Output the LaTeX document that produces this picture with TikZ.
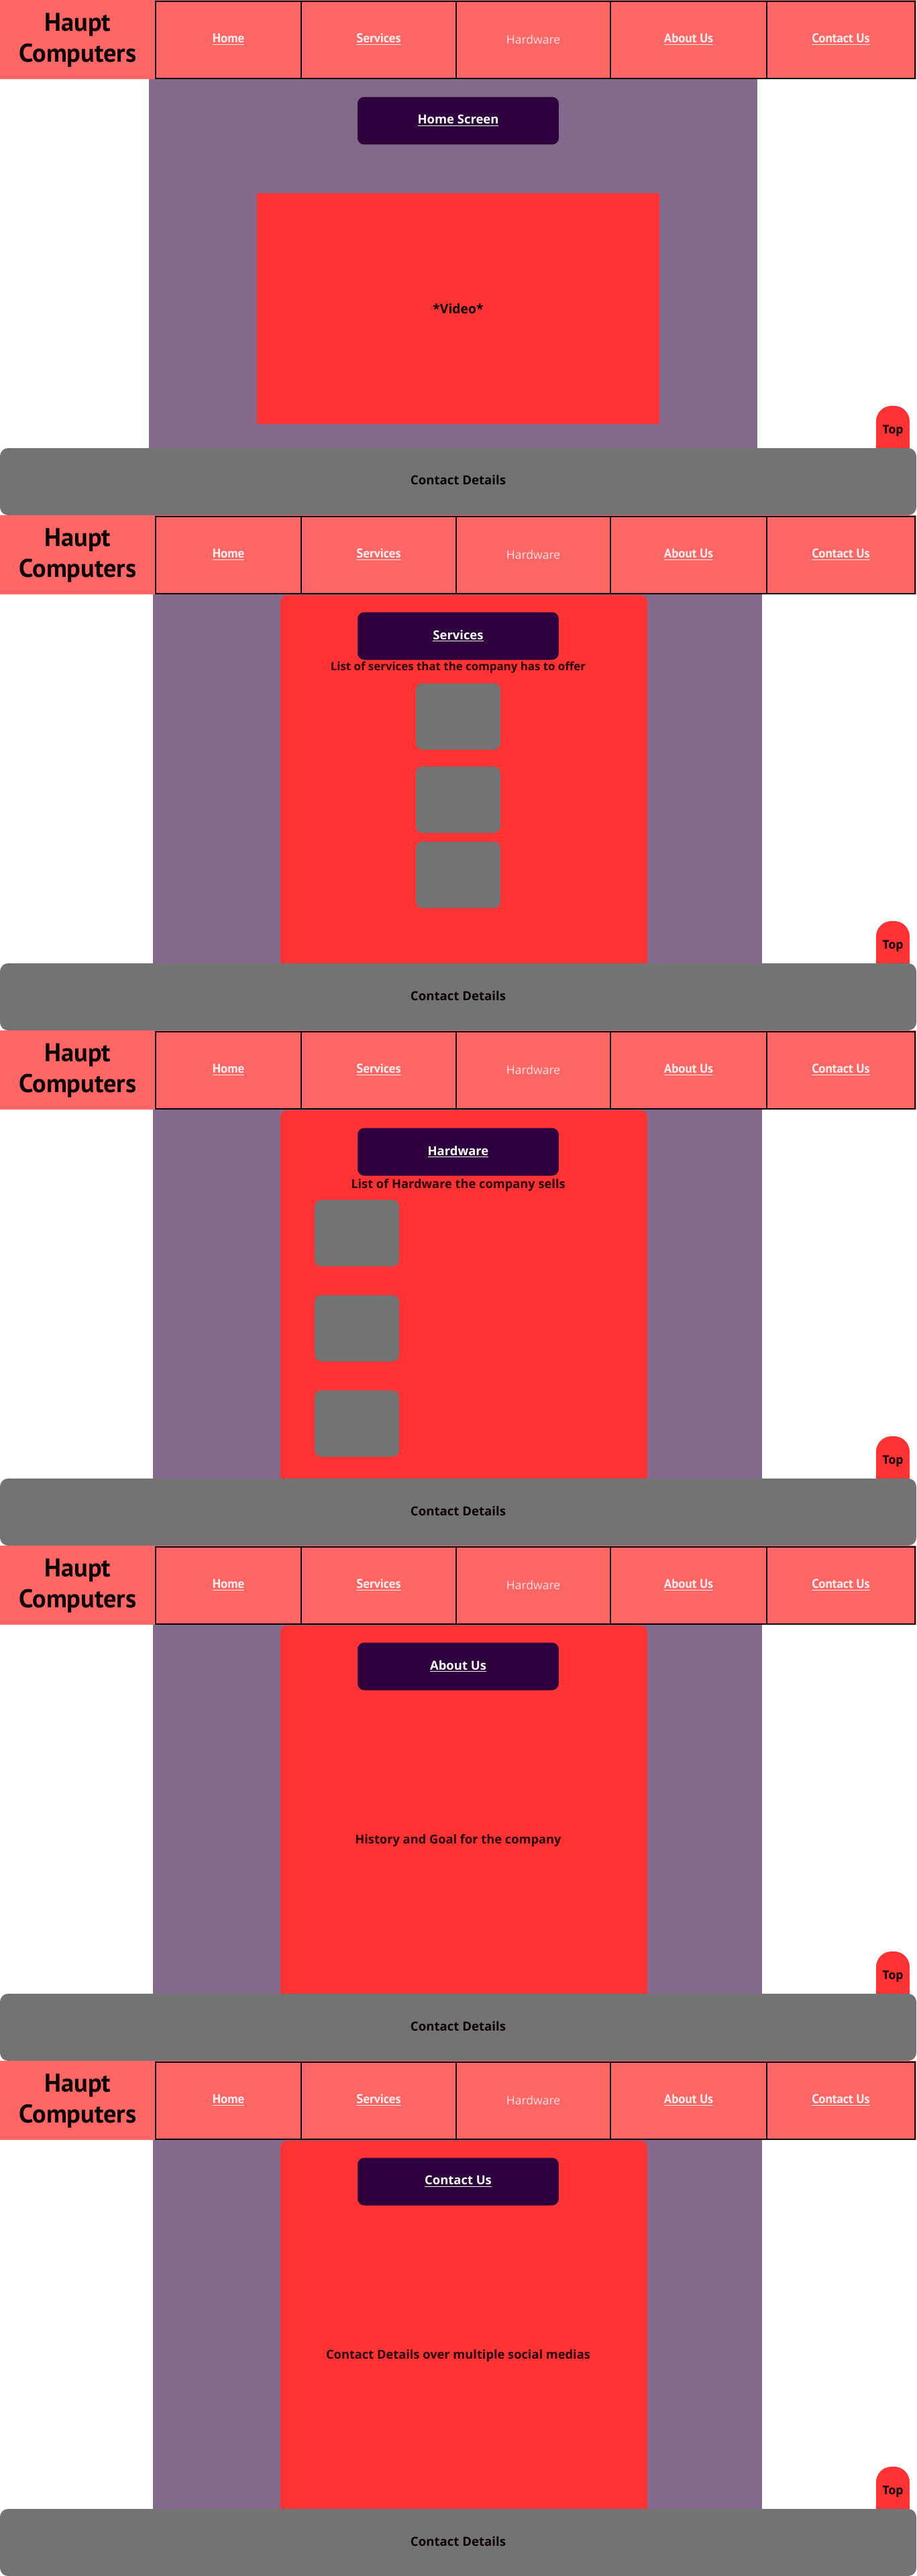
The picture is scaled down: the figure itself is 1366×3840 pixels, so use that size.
\documentclass[tikz,border=0pt]{standalone}
\usepackage{fontspec}
\setmainfont{Open Sans}
\newfontfamily\navfont{PT Sans}
\usetikzlibrary{positioning}

\definecolor{salmon}{HTML}{FF6666}
\definecolor{plum}{HTML}{836A8C}
\definecolor{redpanel}{HTML}{FF3333}
\definecolor{darkplum}{HTML}{2E003E}
\definecolor{greybox}{HTML}{737373}
\definecolor{navtext}{HTML}{FFEEEE}
\definecolor{darktext}{HTML}{2B0000}
\definecolor{inkblack}{HTML}{0D0000}

\begin{document}
\begin{tikzpicture}
[x=0.02cm, y=-0.02cm,
  logotext/.style={align=center, text=inkblack,
    font=\navfont\bfseries\fontsize{21.8}{26}\selectfont},%
  navlink/.style={text=navtext, font=\navfont\bfseries\fontsize{10.8}{13}\selectfont},%
  navplain/.style={text=navtext!90!salmon, font=\fontsize{10}{12}\selectfont},%
  navline/.style={draw=inkblack, line width=1.6pt},%
  pagebtn/.style={fill=darkplum, rounded corners=0.2cm, minimum width=6cm,
    minimum height=1.42cm, inner sep=0pt, text=white,
    font=\bfseries\fontsize{10.5}{13}\selectfont},%
  bodytext/.style={text=darktext, font=\bfseries\fontsize{10.4}{12}\selectfont},%
  greytile/.style={fill=greybox, rounded corners=0.2cm, minimum width=2.52cm,
    minimum height=1.98cm, inner sep=0pt},%
  toplabel/.style={text=inkblack, font=\bfseries\fontsize{10}{12}\selectfont},%
  barlabel/.style={text=inkblack, font=\bfseries\fontsize{10.6}{12}\selectfont}]
\useasboundingbox (0,0) rectangle (1366,3840);
\fill[white] (0,0) rectangle (1366,3840);
%% header, body, top button and contact bar of every page
\foreach \pg in {0,...,4}
{
  \begin{scope}[shift={(0,\pg*768)}]
    \fill[salmon] (0,0) rectangle (1366,118);
    \node[logotext] (logo\pg) at (116,60) {Haupt\\Computers};
    \foreach \i/\xa/\xb/\lbl/\sty in {1/232/449/\underline{Home}/navlink,
      2/449/680/\underline{Services}/navlink, 3/680/910/Hardware/navplain,
      4/910/1143/\underline{About Us}/navlink, 5/1143/1364/\underline{Contact Us}/navlink}
    {
      \draw[navline] (\xa,2) rectangle (\xb,117);
      \node[\sty] (nav\pg-\i) at ({(\xa+\xb)/2},59) {\lbl};
    }
    \ifnum\pg=0
      \fill[plum] (222,118) rectangle (1129,668);
    \else
      \fill[plum] (228,118) rectangle (1136,668);
      \fill[redpanel] (418,668) [rounded corners=0.2cm] -- (418,119)
        -- (965,119) [sharp corners] -- (965,668) -- cycle;
    \fi
    \fill[redpanel] (1306,670) [rounded corners=0.46cm] -- (1306,605)
      -- (1356,605) [sharp corners] -- (1356,670) -- cycle;
    \node[toplabel] (top\pg) at (1331,642) {Top};
    \fill[greybox, rounded corners=0.24cm] (0,668) rectangle (1366,768);
    \node[barlabel] (contact\pg) at (683,716) {Contact Details};
  \end{scope}
}
%% home page
\node[pagebtn] (homebtn) at (683,180) {\underline{Home Screen}};
\fill[redpanel] (383,288) rectangle (983,632);
\node[bodytext, text=inkblack, font=\bfseries\fontsize{11}{13}\selectfont] (video) at (683,460) {*Video*};
%% services page
\begin{scope}[shift={(0,768)}]
  \node[pagebtn] (servbtn) at (683,180) {\underline{Services}};
  \node[bodytext, font=\bfseries\fontsize{9.6}{12}\selectfont] (servlist) at (683,227)
    {List of services that the company has to offer};
  \foreach \i/\y in {1/300, 2/424, 3/536}
  {
    \node[greytile] (serv\i) at (683,\y) {};
  }
\end{scope}
%% hardware page
\begin{scope}[shift={(0,1536)}]
  \node[pagebtn] (hardbtn) at (683,181) {\underline{Hardware}};
  \node[bodytext] (hardlist) at (683,231) {List of Hardware the company sells};
  \foreach \i/\y in {1/302, 2/444, 3/586}
  {
    \node[greytile] (hard\i) at (532,\y) {};
  }
\end{scope}
%% about page
\begin{scope}[shift={(0,2304)}]
  \node[pagebtn] (aboutbtn) at (683,180) {\underline{About Us}};
  \node[bodytext] (history) at (683,440) {History and Goal for the company};
\end{scope}
%% contact page
\begin{scope}[shift={(0,3072)}]
  \node[pagebtn] (contbtn) at (683,180) {\underline{Contact Us}};
  \node[bodytext] (socials) at (683,440) {Contact Details over multiple social medias};
\end{scope}
\end{tikzpicture}
\end{document}
